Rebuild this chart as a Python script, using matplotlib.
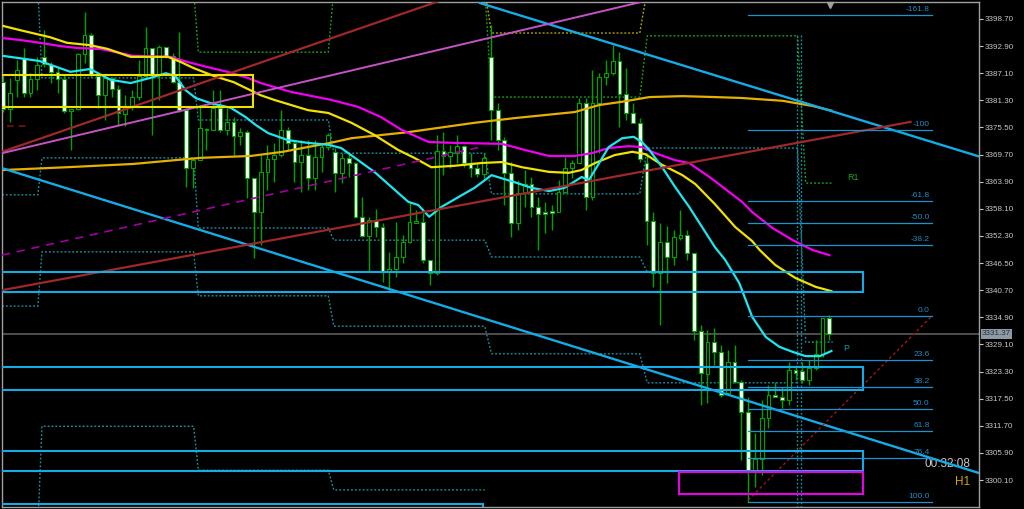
import numpy as np
import matplotlib
matplotlib.use('Agg')
import matplotlib.pyplot as plt
from matplotlib.patches import Rectangle
from matplotlib.transforms import blended_transform_factory

plt.rcParams['font.family'] = ['Liberation Sans', 'DejaVu Sans']

# H1 candles
opens = [3385.2, 3379.5, 3385.6, 3390.4, 3382.9, 3385.9, 3390.6, 3388.9, 3387.4, 3385.9,
         3379.0, 3379.5, 3391.2, 3395.3, 3386.5, 3382.4, 3386.1, 3383.7, 3378.4, 3380.1,
         3382.0, 3386.5, 3392.5, 3386.9, 3392.7, 3390.8, 3385.2, 3379.2, 3366.8, 3368.5,
         3375.2, 3375.0, 3379.7, 3375.0, 3376.7, 3373.7, 3374.5, 3364.7, 3357.4, 3366.0,
         3368.8, 3369.6, 3375.0, 3372.2, 3368.1, 3369.6, 3364.7, 3369.2, 3371.3, 3370.3,
         3365.8, 3369.0, 3367.9, 3356.4, 3352.3, 3355.7, 3354.2, 3344.6, 3345.2, 3347.8,
         3351.0, 3355.1, 3355.3, 3347.2, 3344.4, 3370.5, 3369.4, 3370.0, 3371.5, 3367.9,
         3366.8, 3365.5, 3390.6, 3379.2, 3372.8, 3365.8, 3355.1, 3361.5, 3363.4, 3358.5,
         3357.4, 3357.4, 3357.4, 3361.7, 3366.8, 3367.9, 3380.7, 3360.6, 3380.7, 3386.3,
         3387.2, 3389.7, 3382.7, 3378.6, 3376.5, 3367.9, 3355.5, 3344.4, 3351.0, 3347.8,
         3351.9, 3352.5, 3348.7, 3332.0, 3322.8, 3329.6, 3327.5, 3318.7, 3325.3, 3321.1,
         3314.7, 3301.8, 3304.6, 3313.4, 3318.3, 3317.9, 3317.2, 3323.6, 3323.4, 3321.5,
         3324.1, 3327.1, 3334.8]
highs = [3386.7, 3386.1, 3389.9, 3392.5, 3387.2, 3390.6, 3396.3, 3389.5, 3388.4, 3386.9,
         3379.5, 3391.4, 3400.2, 3395.7, 3386.7, 3386.3, 3386.3, 3384.6, 3382.4, 3383.5,
         3389.9, 3397.0, 3392.5, 3393.1, 3392.7, 3391.4, 3395.9, 3379.2, 3369.2, 3379.9,
         3375.4, 3383.5, 3383.5, 3379.7, 3377.7, 3375.4, 3375.0, 3364.7, 3369.6, 3371.8,
         3372.2, 3379.2, 3375.6, 3372.8, 3372.8, 3372.8, 3372.8, 3371.8, 3374.3, 3371.1,
         3370.0, 3370.0, 3368.1, 3360.6, 3356.4, 3358.1, 3355.1, 3348.9, 3355.3, 3352.5,
         3359.4, 3357.9, 3357.2, 3347.2, 3373.9, 3374.5, 3371.8, 3373.9, 3371.8, 3370.0,
         3367.9, 3370.0, 3397.4, 3380.7, 3373.5, 3368.1, 3364.3, 3366.4, 3364.9, 3360.6,
         3359.6, 3358.9, 3364.3, 3369.2, 3368.5, 3381.8, 3381.8, 3387.8, 3387.2, 3389.9,
         3393.1, 3391.6, 3388.2, 3380.7, 3377.5, 3370.0, 3357.4, 3355.1, 3354.4, 3353.6,
         3357.9, 3353.6, 3348.7, 3333.3, 3332.2, 3332.6, 3329.0, 3327.9, 3329.0, 3321.5,
         3317.9, 3310.2, 3317.2, 3320.4, 3321.1, 3320.0, 3325.3, 3324.7, 3325.3, 3325.8,
         3330.1, 3334.8, 3335.4]
lows = [3378.8, 3376.7, 3382.0, 3382.0, 3382.0, 3383.5, 3388.4, 3385.0, 3382.9, 3378.6,
        3370.7, 3379.2, 3389.3, 3386.3, 3379.7, 3377.1, 3382.0, 3376.0, 3375.8, 3379.2,
        3381.4, 3386.3, 3373.9, 3381.4, 3390.4, 3385.0, 3378.8, 3362.8, 3362.6, 3368.5,
        3370.7, 3375.0, 3374.5, 3373.9, 3369.6, 3371.8, 3360.4, 3347.6, 3350.4, 3362.1,
        3363.8, 3369.2, 3370.7, 3363.8, 3361.7, 3362.1, 3362.1, 3366.0, 3370.7, 3361.7,
        3363.6, 3364.9, 3356.1, 3352.1, 3344.6, 3352.1, 3342.5, 3340.3, 3343.5, 3346.5,
        3350.8, 3355.1, 3346.5, 3341.8, 3344.0, 3365.3, 3366.8, 3367.9, 3367.1, 3364.9,
        3364.9, 3364.7, 3372.8, 3370.7, 3358.9, 3352.1, 3353.6, 3358.5, 3356.4, 3349.3,
        3352.9, 3353.6, 3357.4, 3361.5, 3364.7, 3367.9, 3357.9, 3360.0, 3370.0, 3384.6,
        3386.7, 3375.6, 3377.1, 3376.5, 3368.1, 3350.4, 3341.4, 3333.3, 3342.2, 3346.1,
        3351.4, 3347.2, 3330.1, 3316.2, 3316.6, 3324.7, 3317.9, 3318.3, 3320.9, 3304.4,
        3295.4, 3298.6, 3301.2, 3311.2, 3317.9, 3315.5, 3316.2, 3321.5, 3320.9, 3320.4,
        3323.6, 3326.4, 3330.1]
closes = [3379.5, 3382.9, 3387.8, 3382.9, 3385.9, 3388.9, 3389.1, 3387.4, 3385.9, 3379.0,
          3379.5, 3391.2, 3395.3, 3386.7, 3382.4, 3386.1, 3383.7, 3378.6, 3380.1, 3382.0,
          3386.5, 3392.5, 3386.9, 3392.7, 3390.8, 3385.2, 3379.2, 3366.8, 3368.5, 3375.4,
          3375.0, 3379.7, 3375.0, 3376.7, 3373.7, 3374.5, 3364.7, 3357.4, 3366.0, 3368.8,
          3369.6, 3375.0, 3372.2, 3368.1, 3369.6, 3364.7, 3369.2, 3371.3, 3373.9, 3365.8,
          3369.0, 3367.9, 3356.4, 3352.3, 3355.7, 3354.2, 3344.6, 3345.2, 3347.8, 3351.0,
          3355.3, 3355.5, 3347.2, 3344.4, 3370.5, 3369.4, 3370.3, 3371.5, 3367.9, 3366.8,
          3365.5, 3369.0, 3379.2, 3372.8, 3365.8, 3355.1, 3361.5, 3363.4, 3358.5, 3357.0,
          3357.0, 3357.3, 3361.7, 3366.8, 3367.9, 3380.7, 3360.6, 3380.7, 3386.3, 3387.2,
          3389.7, 3382.7, 3378.6, 3376.5, 3368.8, 3355.5, 3344.4, 3351.0, 3347.8, 3352.1,
          3352.5, 3348.7, 3332.0, 3323.0, 3329.6, 3327.5, 3318.3, 3325.3, 3321.1, 3314.7,
          3301.8, 3304.6, 3313.4, 3318.3, 3317.9, 3317.2, 3323.6, 3323.0, 3321.5, 3324.1,
          3327.1, 3334.8, 3331.4]
last_price = 3331.37

# moving averages, sampled along the drawn curves (bar index, price)
cyan_x = [0, 5.4, 9.9, 12.8, 15.8, 18.8, 21.7, 24.0, 25.4, 26.9, 28.4, 30.6, 33.6, 35.8,
          37.3, 39.1, 42.0, 45.0, 48.0, 49.9, 52.4, 54.8, 57.3, 59.8, 61.3, 62.9, 64.7,
          67.2, 69.6, 72.1, 75.5, 78.0, 80.6, 82.9, 85.4, 86.5, 88.0, 89.4, 91.4, 93.1,
          94.3, 95.4, 97.3, 99.2, 101.3, 103.2, 105.1, 106.6, 108.7, 110.6, 112.6, 114.6,
          116.6, 118.5, 120.6, 122.3]
cyan_y = [3390.8, 3389.7, 3387.4, 3388.0, 3385.7, 3385.0, 3386.1, 3387.1, 3386.5, 3383.5,
          3381.8, 3380.7, 3379.7, 3377.7, 3376.0, 3374.3, 3372.8, 3372.2, 3371.8, 3371.1,
          3368.5, 3366.0, 3362.8, 3359.6, 3358.9, 3356.4, 3358.5, 3360.6, 3362.6, 3365.3,
          3363.8, 3362.6, 3361.9, 3362.6, 3364.9, 3364.3, 3367.9, 3371.3, 3373.2, 3373.5,
          3372.4, 3370.7, 3367.0, 3362.8, 3358.5, 3354.2, 3349.9, 3347.2, 3342.2, 3335.0,
          3330.7, 3328.6, 3327.5, 3326.6, 3326.6, 3327.7]
yellow_x = [0, 2.5, 6.9, 9.4, 12.8, 15.4, 18.8, 24.3, 26.2, 28.1, 31.1, 34.0, 38.0, 40.0,
            45.0, 48.0, 51.4, 54.8, 58.3, 60.7, 63.2, 66.6, 70.6, 73.6, 76.6, 80.6, 83.5,
            85.4, 87.4, 90.3, 92.9, 94.8, 97.3, 100.3, 102.2, 105.1, 108.1, 110.6, 111.7,
            114.0, 117.0, 120.0, 122.3]
yellow_y = [3397.2, 3396.3, 3394.8, 3393.6, 3393.1, 3392.3, 3390.6, 3390.6, 3389.5, 3388.2,
            3386.5, 3385.2, 3382.4, 3381.4, 3379.2, 3378.6, 3376.5, 3373.9, 3370.7, 3369.0,
            3367.0, 3367.3, 3367.9, 3368.1, 3367.0, 3366.0, 3365.8, 3366.4, 3367.9, 3369.6,
            3370.3, 3369.8, 3367.5, 3365.3, 3363.4, 3359.1, 3354.2, 3351.2, 3349.3, 3346.1,
            3343.3, 3341.4, 3340.5]
magenta_x = [0, 2.5, 5.4, 8.4, 10.9, 14.3, 17.3, 19.2, 24.7, 27.2, 30.2, 33.1, 36.1, 38.0,
             42.5, 48.4, 52.4, 55.8, 58.8, 62.8, 66.6, 73.6, 77.0, 80.6, 84.4, 86.9, 89.4,
             92.4, 94.3, 96.3, 99.2, 101.3, 104.3, 107.2, 109.1, 110.6, 113.6, 116.6,
             119.5, 122.0]
magenta_y = [3394.6, 3394.2, 3393.6, 3392.9, 3392.5, 3392.3, 3391.4, 3390.8, 3390.6,
             3389.5, 3388.4, 3387.4, 3386.1, 3385.0, 3383.1, 3381.4, 3379.9, 3377.7,
             3375.0, 3372.4, 3372.2, 3372.0, 3370.7, 3369.4, 3369.4, 3370.0, 3371.1,
             3371.5, 3371.3, 3370.0, 3368.5, 3367.9, 3364.9, 3361.7, 3359.6, 3357.4,
             3354.0, 3351.4, 3349.3, 3348.2]
gold_x = [0, 9.4, 19.2, 29.1, 36.5, 41.3, 44.9, 48.3, 51.4, 59.8, 69.6, 75.5, 84.4, 88.0,
          91.4, 95.4, 100.3, 105.1, 109.1, 115.1, 119.5, 122.3]
gold_y = [3366.4, 3367.0, 3367.7, 3369.0, 3369.4, 3370.3, 3371.3, 3372.2, 3373.2, 3374.5,
          3376.5, 3377.5, 3378.8, 3380.3, 3381.0, 3382.0, 3382.2, 3382.0, 3381.8, 3381.2,
          3380.1, 3379.1]

# trend lines (bar index pairs, price pairs)
blue_hi_x, blue_hi_y = [70.4, 144.1], [3402.1, 3369.3]
blue_lo_x, blue_lo_y = [-0.2, 144.1], [3366.8, 3301.6]
red_hi_x, red_hi_y = [-0.2, 64.5], [3370.3, 3402.6]
violet_x, violet_y = [-0.2, 94.1], [3370.0, 3402.3]
red_lo_x, red_lo_y = [-0.2, 134.0], [3340.7, 3376.7]
vdash_x, vdash_y = [-0.2, 70.4], [3348.2, 3371.3]
fibtrend_x, fibtrend_y = [110.0, 137.0], [3295.8, 3335.0]

# fibonacci retracement
fib_labels = ['-161.8', '-100', '-61.8', '-50.0', '-38.2', '0.0', '23.6', '38.2',
              '50.0', '61.8', '76.4', '100.0']
fib_prices = [3399.6, 3375.0, 3359.8, 3355.1, 3350.4, 3335.2, 3325.8, 3320.0,
              3315.3, 3310.6, 3304.8, 3295.4]
fib_x0, fib_x1 = 110.0, 137.2

# zones
blue_box_top = [3344.6, 3324.3, 3306.3, 3295.0]
blue_box_bot = [3340.3, 3319.4, 3302.0, 3290.0]
blue_box_end = [127.0, 127.0, 127.0, 70.9]
mag_box = (99.8, 127.0, 3297.1, 3301.8)
yel_box = (-5.0, 36.9, 3379.9, 3386.7)

# daily pivot levels: (start bar, end bar, price)
piv_teal = [
    [(-0.2, 5.1, 3405.0), (5.7, 28.1, 3386.1), (28.8, 48.0, 3377.1), (48.8, 71.1, 3370.0),
     (72.1, 94.0, 3361.3), (95.1, 117.3, 3371.1), (118.5, 122.5, 3329.6)],
    [(-0.2, 5.1, 3361.1), (5.7, 28.1, 3369.0), (28.8, 48.0, 3354.0), (48.8, 71.1, 3351.4),
     (72.1, 94.0, 3347.8), (95.1, 117.3, 3344.6)],
    [(-0.2, 5.1, 3337.3), (5.7, 28.1, 3348.9), (28.8, 48.0, 3339.5), (48.8, 71.1, 3333.0),
     (72.1, 94.0, 3327.1), (95.1, 117.3, 3320.9)],
    [(-0.2, 5.1, 3290.0), (5.7, 28.1, 3311.6), (28.8, 48.0, 3302.2), (48.8, 71.1, 3298.0)],
]
piv_green = [(5.7, 28.1, 3405.0), (28.8, 48.0, 3391.6), (48.8, 71.1, 3405.0),
             (72.1, 94.0, 3382.0), (95.1, 117.3, 3395.1), (118.5, 122.5, 3363.6)]
piv_yellow = [(48.8, 71.1, 3405.0), (72.1, 94.0, 3395.7), (95.1, 117.3, 3405.0)]
separators = [117.2, 117.8]

ticks = [3398.70, 3392.90, 3387.10, 3381.30, 3375.50, 3369.70, 3363.90, 3358.10,
         3352.30, 3346.50, 3340.70, 3334.90, 3329.10, 3323.30, 3317.50, 3311.70,
         3305.90, 3300.10]

WICK = '#00a400'
BLUE = '#14ace6'
TEAL = '#1a8c9c'

fig = plt.figure(figsize=(10.24, 5.09), dpi=100, facecolor='black')
ax = fig.add_axes([2/1024, 2/509, 977/1024, 505/509])
ax.set_facecolor('black')
ax.set_xlim(-0.2, 144.1)
ax.set_ylim(3294.34, 3402.33)


def steps(segs):
    xs, ys = [], []
    for a, b, p in segs:
        xs += [a, b]
        ys += [p, p]
    return xs, ys


dot = (0, (1.4, 1.4))
for s in piv_teal:
    ax.plot(*steps(s), color=TEAL, lw=1, ls=dot, zorder=1)
ax.plot(*steps(piv_green), color='#1c9c1c', lw=1, ls=dot, zorder=1)
ax.plot(*steps(piv_yellow), color='#a8a800', lw=1, ls=dot, zorder=1)
for sx in separators:
    ax.plot([sx, sx], [3395.3, 3290], color=TEAL, lw=1, ls=dot, zorder=1)

# current price line
ax.axhline(last_price, color='#4e4e4e', lw=1.4, zorder=1)

# candles
idx = np.arange(len(opens))
o = np.array(opens)
c = np.array(closes)
up = c >= o
ax.vlines(idx, lows, highs, color=WICK, lw=1, zorder=2)
lo = np.minimum(o, c)
h = np.maximum(np.abs(c - o), 0.25)
ax.bar(idx, h, bottom=lo, width=0.56, color=np.where(up, 'black', 'white'),
       edgecolor=WICK, linewidth=0.8, zorder=3)

# moving averages
ax.plot(gold_x, gold_y, color='#e6b000', lw=1.6, zorder=4)
ax.plot(magenta_x, magenta_y, color='#f000f0', lw=1.6, zorder=4)
ax.plot(yellow_x, yellow_y, color='#f2e200', lw=1.6, zorder=4)
ax.plot(cyan_x, cyan_y, color='#1ee6f0', lw=1.6, zorder=4)

# trend lines
ax.plot(blue_hi_x, blue_hi_y, color=BLUE, lw=1.7, zorder=5)
ax.plot(blue_lo_x, blue_lo_y, color=BLUE, lw=1.7, zorder=5)
ax.plot(red_hi_x, red_hi_y, color='#a02828', lw=1.6, zorder=5)
ax.plot(violet_x, violet_y, color='#c454c4', lw=1.4, zorder=5)
ax.plot(red_lo_x, red_lo_y, color='#a02828', lw=1.6, zorder=5)
ax.plot(vdash_x, vdash_y, color='#a000a0', lw=1.2, ls=(0, (5, 4)), zorder=5)
ax.plot(fibtrend_x, fibtrend_y, color='#a01818', lw=1, ls=(0, (2, 2)), zorder=5)
ax.plot([0.5, 4.0], [3375.8, 3375.8], color='#801010', lw=1.2, ls=(0, (4, 3)), zorder=5)

# zones
for t, b, e in zip(blue_box_top, blue_box_bot, blue_box_end):
    ax.add_patch(Rectangle((-5, b), e + 5, t - b, fill=False, ec=BLUE, lw=1.5, zorder=5))
ax.add_patch(Rectangle((mag_box[0], mag_box[2]), mag_box[1] - mag_box[0],
                       mag_box[3] - mag_box[2], fill=False, ec='#e800e8', lw=1.5, zorder=5))
ax.add_patch(Rectangle((yel_box[0], yel_box[2]), yel_box[1] - yel_box[0],
                       yel_box[3] - yel_box[2], fill=False, ec='#f0e000', lw=1.5, zorder=5))

# fibonacci levels
for lab, p in zip(fib_labels, fib_prices):
    ax.plot([fib_x0, fib_x1], [p, p], color='#1a94d0', lw=0.9, zorder=5)
    ax.text(fib_x1 - 0.4, p + 0.35, lab, color='#1e8cc8', fontsize=6, ha='right',
            va='bottom', zorder=6)

ax.text(124.6, 3364.9, 'R1', color='#1ea01e', fontsize=6.5, ha='left', va='center')
ax.text(124.0, 3328.3, 'P', color='#1a9aaa', fontsize=6.5, ha='left', va='center')
ax.text(142.8, 3303.6, '00:32:08', color='#c8c8c8', fontsize=8.5, ha='right', va='center')
ax.text(142.8, 3299.7, 'H1', color='#d4a800', fontsize=8.5, ha='right', va='center')
ax.plot(122.1, 3401.7, marker='v', color='#a0a0a0', ms=5, zorder=7, clip_on=False)

# right price scale
ax.yaxis.tick_right()
ax.set_yticks(ticks)
ax.set_yticklabels([f'{t:.2f}' for t in ticks])
ax.tick_params(axis='y', colors='#c8c8c8', labelsize=5.8, length=3, width=0.8, pad=1)
ax.set_xticks([])
for s in ax.spines.values():
    s.set_color('#a0a0a0')
    s.set_linewidth(1)

tr = blended_transform_factory(ax.transAxes, ax.transData)
ax.text(1.003, last_price, f'{last_price:.2f}', transform=tr, color='#263038',
        fontsize=5.8, ha='left', va='center',
        bbox=dict(boxstyle='square,pad=0.15', fc='#8d9aa6', ec='none'))

fig.savefig('out.png', dpi=100, facecolor='black')
